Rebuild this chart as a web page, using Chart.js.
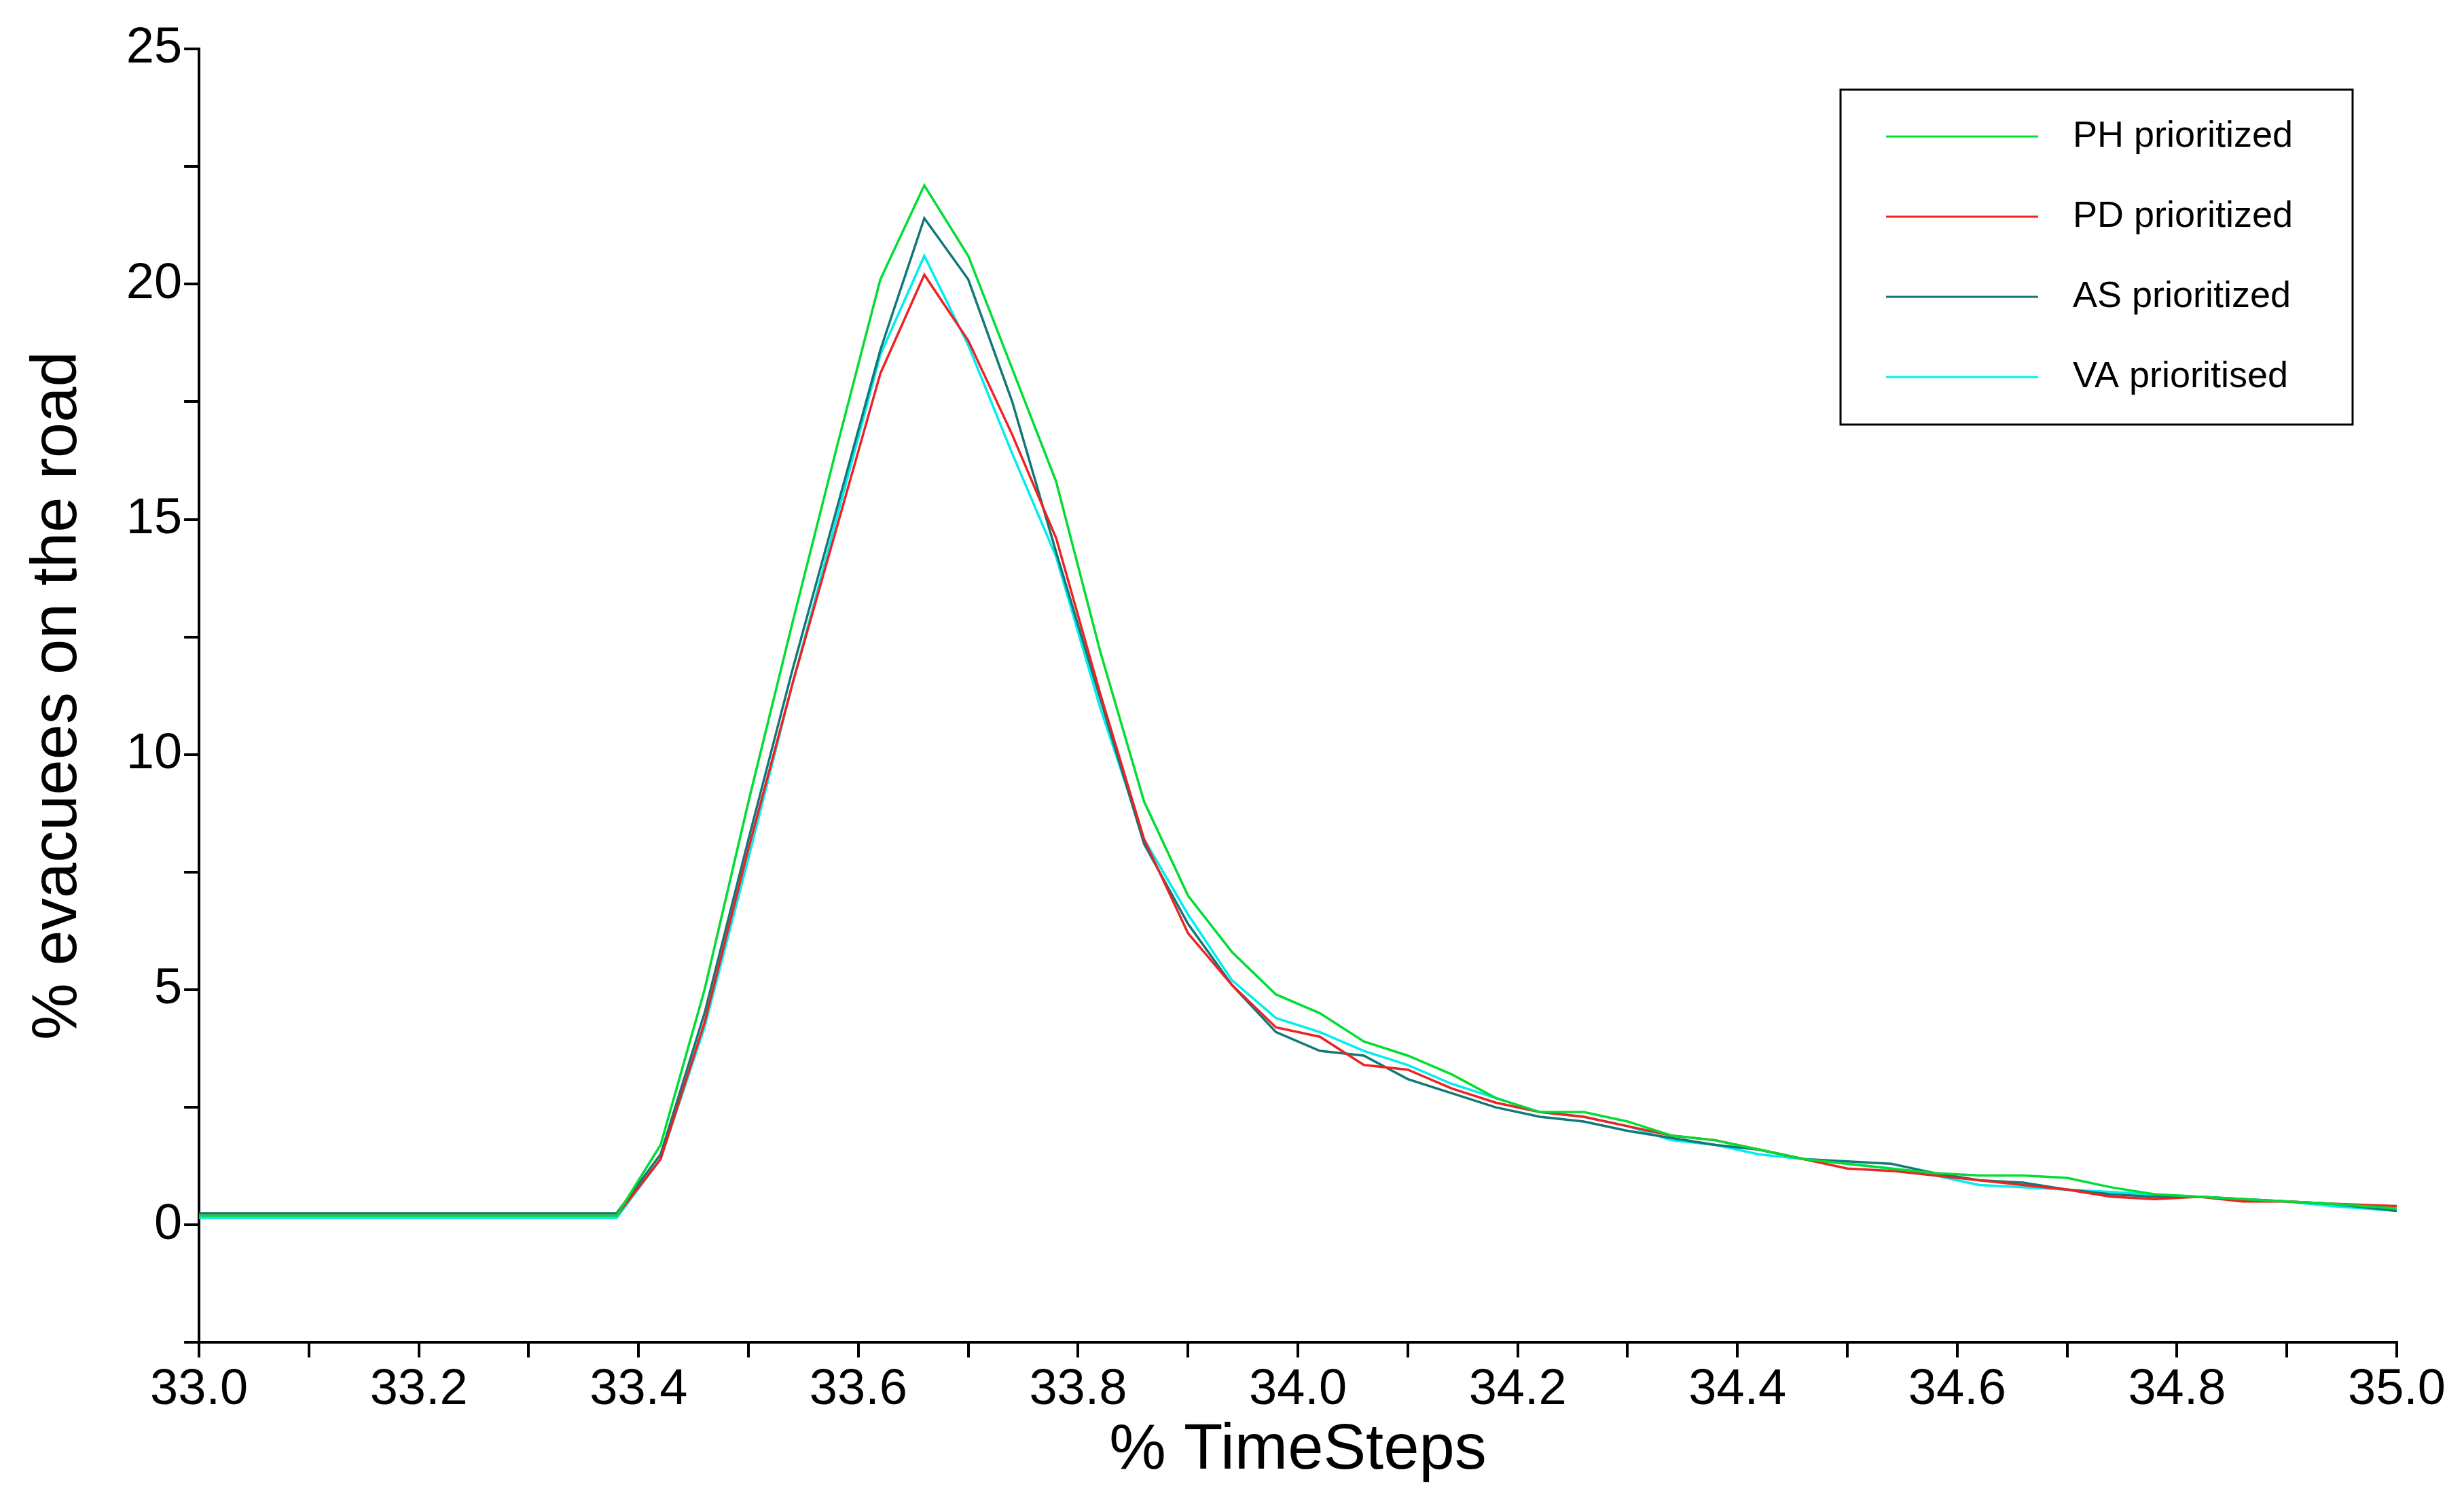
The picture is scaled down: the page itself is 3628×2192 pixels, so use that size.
<!DOCTYPE html>
<html><head><meta charset="utf-8">
<script src="https://cdn.jsdelivr.net/npm/chart.js@4"></script>
<style>html,body{margin:0;padding:0;background:#fff}#w{width:3628px;height:2192px}</style>
</head><body><div id="w"><canvas id="c"></canvas></div>
<script>
const xs = [33.0,33.38,33.42,33.46,33.50,33.54,33.58,33.62,33.66,33.70,33.74,33.78,33.82,33.86,33.90,33.94,33.98,34.02,34.06,34.10,34.14,34.18,34.22,34.26,34.30,34.34,34.38,34.42,34.46,34.50,34.54,34.58,34.62,34.66,34.70,34.74,34.78,34.82,34.86,34.90,34.94,35.0];
const labels = ["PH prioritized","PD prioritized","AS prioritized","VA prioritised"];
const colors = ["#00dd33","#ee2222","#117777","#00eeee"];
const ph = [0.2,0.2,1.7,5.0,9.0,12.8,16.5,20.1,22.1,20.6,18.2,15.8,12.2,9.0,7.0,5.8,4.9,4.5,3.9,3.6,3.2,2.7,2.4,2.4,2.2,1.9,1.8,1.6,1.4,1.3,1.2,1.1,1.05,1.05,1.0,0.8,0.65,0.6,0.55,0.5,0.45,0.35];
const pd = [0.2,0.2,1.4,4.3,8.0,11.5,14.8,18.1,20.2,18.8,16.8,14.6,11.3,8.2,6.2,5.1,4.2,4.0,3.4,3.3,2.9,2.6,2.4,2.3,2.1,1.9,1.8,1.6,1.4,1.2,1.15,1.05,0.95,0.85,0.75,0.6,0.55,0.6,0.5,0.5,0.45,0.4];
const as = [0.25,0.25,1.5,4.5,8.2,11.8,15.2,18.6,21.4,20.1,17.5,14.3,11.2,8.1,6.4,5.1,4.1,3.7,3.6,3.1,2.8,2.5,2.3,2.2,2.0,1.85,1.7,1.6,1.4,1.35,1.3,1.1,0.95,0.9,0.75,0.65,0.6,0.6,0.55,0.5,0.45,0.3];
const va = [0.15,0.15,1.4,4.2,7.8,11.5,15.0,18.5,20.6,18.7,16.4,14.2,11.0,8.2,6.6,5.2,4.4,4.1,3.7,3.4,3.0,2.7,2.4,2.3,2.1,1.8,1.7,1.5,1.4,1.3,1.2,1.05,0.85,0.8,0.75,0.7,0.65,0.6,0.55,0.5,0.4,0.3];
const series=[ph,pd,as,va];
const legendBox={id:'legendBox',afterDraw(ch){const c=ch.ctx;c.save();c.strokeStyle='#000';c.lineWidth=3;c.strokeRect(2710,132,754,493);
c.font='54px Arial, "Liberation Sans"';c.textBaseline='middle';c.fillStyle='#000';
ch.data.datasets.forEach((d,i)=>{const y=201+i*118;c.strokeStyle=d.borderColor;c.lineWidth=3;c.beginPath();c.moveTo(2777,y);c.lineTo(3001,y);c.stroke();c.fillText(d.label,3052,y);});c.restore();}};
new Chart(document.getElementById('c'),{type:'line',
data:{datasets:series.map((s,i)=>({label:labels[i],data:xs.map((x,j)=>({x,y:s[j]})),borderColor:colors[i],borderWidth:3.5,pointRadius:0,tension:0}))},
options:{responsive:true,maintainAspectRatio:false,animation:false,
layout:{padding:{top:72,right:99,left:30,bottom:0}},
plugins:{legend:{display:false},tooltip:{enabled:false}},
scales:{
x:{type:'linear',min:33,max:35,border:{color:'#000',width:4},
ticks:{stepSize:0.1,color:'#000',font:{size:74,family:'Arial, "Liberation Sans"'},maxRotation:0,autoSkip:false,padding:4,
callback:v=>{const k=Math.round(v*10);return k%2===0?(k/10).toFixed(1):'';}},
grid:{drawOnChartArea:false,color:'#000',lineWidth:4,tickLength:22},
title:{display:true,text:'% TimeSteps',color:'#000',font:{size:94,family:'Arial, "Liberation Sans"'},padding:{top:-16,bottom:0}}},
y:{min:-2.5,max:25,border:{color:'#000',width:4},
ticks:{stepSize:2.5,color:'#000',font:{size:74,family:'Arial, "Liberation Sans"'},
callback:v=>(Math.round(v*2)%2===0 && v>=0)?String(v):''},
grid:{drawOnChartArea:false,color:'#000',lineWidth:4,tickLength:22},
title:{display:true,text:'% evacuees on the road',color:'#000',font:{size:94,family:'Arial, "Liberation Sans"'},padding:{top:0,bottom:40}}}}},
plugins:[legendBox]});
</script></body></html>
